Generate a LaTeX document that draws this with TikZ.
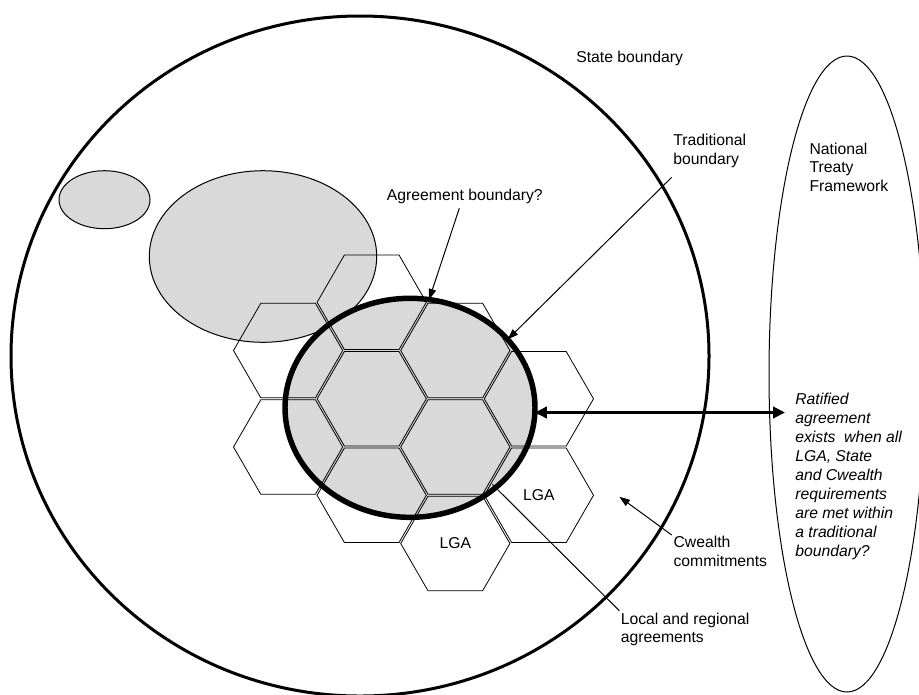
\documentclass[tikz,border=0pt]{standalone}
\usepackage{fontspec}
\setmainfont{Liberation Sans}
\usetikzlibrary{shapes.geometric,arrows.meta}
\definecolor{fillgray}{HTML}{D9D9D9}
\newcommand{\lblfont}{\fontsize{11.8pt}{14pt}\selectfont}
\newcommand{\itlblfont}{\fontsize{11.8pt}{14.3pt}\selectfont\itshape}
\begin{document}
\begin{tikzpicture}[x=0.75pt,y=-0.75pt,
  lbl/.style={font=\lblfont, inner sep=0pt, align=left, anchor=north west},
  oval/.style={ellipse, inner sep=0pt, outer sep=0pt},
  grayoval/.style={oval, draw, fill=fillgray, line width=0.75pt},
  hexcell/.style={regular polygon, regular polygon sides=6, minimum size=81.9pt,
                  inner sep=0pt, draw, line width=0.6pt, font=\lblfont},
  thinarrow/.style={line width=0.75pt, -{Triangle[length=8pt,width=5.5pt]}},
  smallarrow/.style={line width=0.75pt, -{Triangle[length=5pt,width=3.5pt]}},
  dblarrow/.style={line width=2.5pt,
     {Triangle[length=9pt,width=8.5pt]}-{Triangle[length=9pt,width=8.5pt]}}]
\useasboundingbox (0,0) rectangle (919,694);
\fill[white] (0,0) rectangle (919,694);

% big outlines
\node[oval, draw, line width=2.25pt, minimum width=523.5pt, minimum height=510pt] (state) at (360,356) {};
\node[oval, draw, line width=0.75pt, minimum width=117pt, minimum height=477pt] (natl) at (847,374) {};

% grey areas
\node[grayoval, minimum width=68.25pt, minimum height=43.5pt] (smallarea) at (104.5,199.7) {};
\node[grayoval, minimum width=170.55pt, minimum height=128.7pt] (bigarea) at (263,256.5) {};
\node[oval, fill=fillgray, minimum width=187.5pt, minimum height=164.25pt] (agreefill) at (410,407.8) {};

% hexagonal cells
\node[hexcell] (h0a) at (288.1,350.5) {};
\node[hexcell] (h0b) at (288.1,447) {};
\node[hexcell] (h1a) at (371.7,302.25) {};
\node[hexcell] (h1b) at (371.7,398.75) {};
\node[hexcell] (h1c) at (371.7,495.25) {};
\node[hexcell] (h2a) at (455.3,350.5) {};
\node[hexcell] (h2b) at (455.3,447) {};
\node[hexcell] (h2c) at (455.3,543.5) {LGA};
\node[hexcell] (h3a) at (538.9,398.75) {};
\node[hexcell] (h3b) at (538.9,495.25) {LGA};

% agreement boundary
\node[oval, draw, line width=4.1pt, minimum width=187.5pt, minimum height=164.25pt] (agree) at (410,407.8) {};

% labels
\node[lbl] (statelbl) at (576,51) {State boundary};
\node[lbl] (tradlbl) at (673,134.3) {Traditional\\boundary};
\node[lbl] (agrlbl) at (386.7,188.6) {Agreement boundary?};
\node[lbl] (natlbl) at (809.3,142.6) {National\\Treaty\\Framework};
\node[lbl, font=\itlblfont] (ratlbl) at (795,392.6) {Ratified\\agreement\\exists\ \ when all\\LGA, State\\and Cwealth\\requirements\\are met within\\a traditional\\boundary?};
\node[lbl] (cwlbl) at (673.3,536) {Cwealth\\commitments};
\node[lbl] (loclbl) at (620.5,612.6) {Local and regional\\agreements};

% connectors
\coordinate (agrfrom) at (459.3,208.3);
\coordinate (tradfrom) at (671.7,177.3);
\coordinate (cwfrom) at (671.7,535);
\coordinate (cwto) at (619.3,496.7);
\coordinate (locfrom) at (619.3,610.7);
\coordinate (locto) at (492,484);
\coordinate (dblR) at (785,412.5);

\draw[thinarrow] (agrfrom) -- (agree.80);
\draw[thinarrow] (tradfrom) -- (agree.35);
\draw[thinarrow] (cwfrom) -- (cwto);
\draw[smallarrow] (locfrom) -- (locto);
\draw[dblarrow] (agree.-2 |- dblR) -- (dblR);
\end{tikzpicture}
\end{document}
